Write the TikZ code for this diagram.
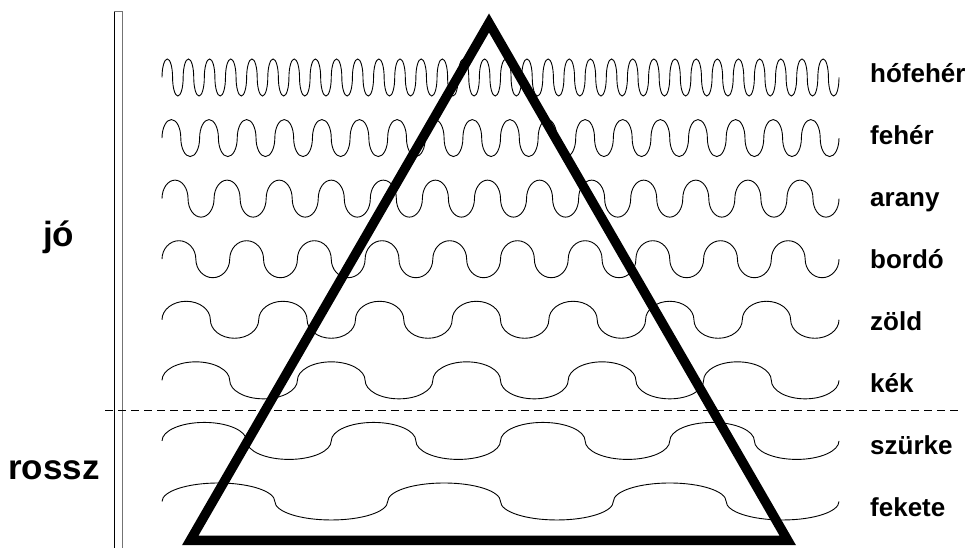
\documentclass[tikz,border=0pt]{standalone}
\usepackage{fontspec}
\setmainfont{Liberation Sans}
\usepackage{tikz}

\begin{document}
\begin{tikzpicture}[x=1pt,y=1pt,every node/.style={font=\bfseries,inner sep=0pt,anchor=base west},
      colour/.style={font=\fontsize{26}{30}\selectfont\bfseries},
      side/.style={font=\fontsize{35}{40}\selectfont\bfseries},
      wave/.style={line width=.9pt,black},
      pyramid/.style={line width=9.5pt,line join=miter,black},
      divider/.style={line width=.8pt,dash pattern=on 8pt off 5pt}]
      \useasboundingbox (0,0) rectangle (974,548);
      % scale bar on the left
      \draw[line width=.9pt] (114,0)--(114,537);
      \draw[line width=.9pt,black!55] (114,537)--(122,537)--(122,0);
      \node[side] (good) at (43,301) {jó};
      \node[side] (bad) at (8,68) {rossz};
      % the waves, one per row
      \foreach \n [count=\i from 0] in {32,18,13,10,7,5,4,3}{
        \pgfmathsetmacro\rx{677/(4*\n)}
        \draw[wave] (162,{470.5-60.57*\i}) \foreach \k in {1,...,\n}{
          arc[start angle=180,end angle=0,x radius=\rx pt,y radius=18.5pt]
          arc[start angle=180,end angle=360,x radius=\rx pt,y radius=18.5pt]};
      }
      \foreach \name/\txt [count=\i from 0] in {hofeher/hófehér,feher/fehér,arany/arany,bordo/bordó,zold/zöld,kek/kék,szurke/szürke,fekete/fekete}
        \node[colour] (\name) at (870,{465-62*\i}) {\txt};
      % border between good and bad
      \draw[divider] (105,138)--(960,138);
      \draw[pyramid] (489,525)--(787.8,7.5)--(190.2,7.5)--cycle;
    \end{tikzpicture}
\end{document}
